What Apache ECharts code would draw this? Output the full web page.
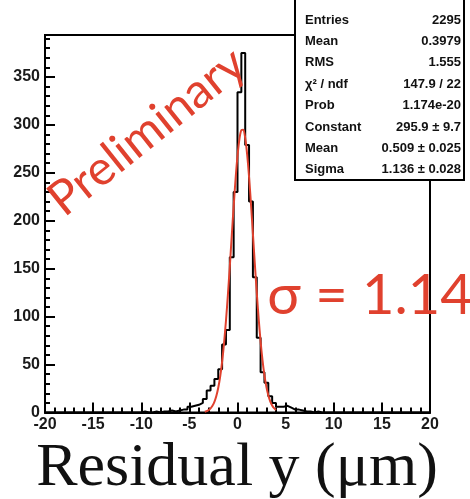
<!doctype html>
<html>
	<head>
		<meta charset="utf-8">
		<title>Residual y</title>
		<style>
			html, body { margin: 0; padding: 0; background: #fff; }
		</style>
	</head>
	<body>
		<div id="container" style="height: 499px; width: 470px;"></div>

		<script src="https://cdn.jsdelivr.net/npm/echarts/dist/echarts.min.js"></script>

		<script>
			// histogram: 100 bins of 0.4 from -20 to 20, only -10 .. 8.4 are non empty
			const histMin = -20;
			const histMax = 20;
			const binWidth = 0.4;
			const countsStart = -10;
			const counts = [
				1, 0, 0, 1, 0, 1, 1, 2, 1, 2,
				3, 3, 6, 7, 8, 10, 14, 23, 28, 35,
				45, 71, 86, 162, 230, 334, 375, 279, 220, 141,
				78, 42, 31, 17, 10, 6, 6, 7, 5, 3,
				3, 2, 1, 1, 0, 1
			];

			// gaus fit curve read every 0.2 from -3.4 to 4.0
			const fitStart = -3.4;
			const fitStep = 0.2;
			const fitY = [
				0.8, 1.4, 2.5, 4.3, 7.0, 11.1, 17.2, 25.8, 37.5, 52.8,
				72.1, 95.4, 122.5, 152.3, 183.8, 214.8, 243.5, 267.6, 285.2, 294.5,
				294.9, 286.3, 269.5, 245.9, 217.5, 186.6, 155.1, 125.1, 97.7, 74.0,
				54.4, 38.7, 26.7, 17.9, 11.6, 7.3, 4.5, 2.6
			];

			const statLabels = ['Entries', 'Mean', 'RMS', 'χ² / ndf', 'Prob', 'Constant', 'Mean', 'Sigma'];
			const statValues = ['2295', '0.3979', '1.555', '147.9 / 22', '1.174e-20', '295.9 ± 9.7', '0.509 ± 0.025', '1.136 ± 0.028'];

			const yMax = 393.75;
			const red = '#e0412e';

			function histData() {
				let nBins = Math.round((histMax - histMin) / binWidth);
				let off = Math.round((countsStart - histMin) / binWidth);
				let out = [];
				for (let k = 0; k < nBins; k++) {
					let c = counts[k - off];
					out.push([histMin + k * binWidth, c === undefined ? 0 : c]);
				}
				out.push([histMax, 0]);
				return out;
			}

			function fitData() {
				return fitY.map((v, i) => [fitStart + i * fitStep, v]);
			}

			function statsBox() {
				let children = [{
					type: 'rect',
					shape: { x: 295, y: -3, width: 169, height: 183 },
					style: { fill: '#fff', stroke: '#000', lineWidth: 2 }
				}];
				for (let i = 0; i < statLabels.length; i++) {
					let y = 20 + i * 21.4;
					children.push({
						type: 'text', x: 305, y: y,
						style: { text: statLabels[i], font: 'bold 13px "Liberation Sans"', fill: '#111', align: 'left', verticalAlign: 'middle' }
					});
					children.push({
						type: 'text', x: 461, y: y,
						style: { text: statValues[i], font: 'bold 13px "Liberation Sans"', fill: '#111', align: 'right', verticalAlign: 'middle' }
					});
				}
				return { type: 'group', z: 100, children: children };
			}

			const axisBlack = { color: '#000', width: 2 };
			const labelFont = { color: '#1a1a1a', fontFamily: 'Liberation Sans', fontWeight: 'bold', fontSize: 16 };

			let chart = echarts.init(document.getElementById('container'), null, { renderer: 'canvas' });

			chart.setOption({
				animation: false,
				grid: {
					left: 45, top: 35, width: 385, height: 377.5,
					show: true, borderColor: '#000', borderWidth: 2, backgroundColor: 'transparent'
				},
				xAxis: {
					type: 'value', min: histMin, max: histMax, interval: 5,
					axisLine: { show: true, onZero: false, lineStyle: axisBlack },
					axisTick: { show: true, inside: true, length: 10, lineStyle: axisBlack },
					minorTick: { show: true, splitNumber: 5, length: 5, lineStyle: axisBlack },
					splitLine: { show: false },
					axisLabel: Object.assign({ margin: 4 }, labelFont)
				},
				yAxis: [
					{
						type: 'value', min: 0, max: yMax, interval: 50,
						axisLine: { show: true, onZero: false, lineStyle: axisBlack },
						axisTick: { show: true, inside: true, length: 10, lineStyle: axisBlack },
						splitLine: { show: false },
						axisLabel: Object.assign({ margin: 5, showMaxLabel: false }, labelFont)
					},
					{
						// minor ticks every 10
						type: 'value', min: 0, max: yMax, interval: 10, position: 'left',
						axisLine: { show: false, onZero: false },
						axisTick: { show: true, inside: true, length: 5, lineStyle: axisBlack },
						splitLine: { show: false },
						axisLabel: { show: false }
					}
				],
				series: [
					{
						name: 'hist',
						type: 'line',
						step: 'end',
						showSymbol: false,
						lineStyle: { color: '#000', width: 2 },
						z: 2,
						data: histData()
					},
					{
						name: 'gaus',
						type: 'line',
						smooth: 0.3,
						showSymbol: false,
						lineStyle: { color: red, width: 2 },
						z: 3,
						data: fitData()
					}
				],
				graphic: [
					statsBox(),
					{
						type: 'text', x: 147, y: 132, rotation: 0.675, z: 50,
						style: { text: 'Preliminary', font: '48px Lato, "Noto Sans"', fill: red, align: 'center', verticalAlign: 'middle' }
					},
					{
						type: 'text', x: 370, y: 296, z: 50,
						style: { text: 'σ = 1.14', font: '56px Lato, "Noto Sans"', fill: red, align: 'center', verticalAlign: 'middle' }
					},
					{
						type: 'text', x: 237, y: 469, z: 50,
						style: { text: 'Residual y (μm)', font: '62px "Liberation Serif"', fill: '#111', align: 'center', verticalAlign: 'middle' }
					}
				]
			});
		</script>
	</body>
</html>
